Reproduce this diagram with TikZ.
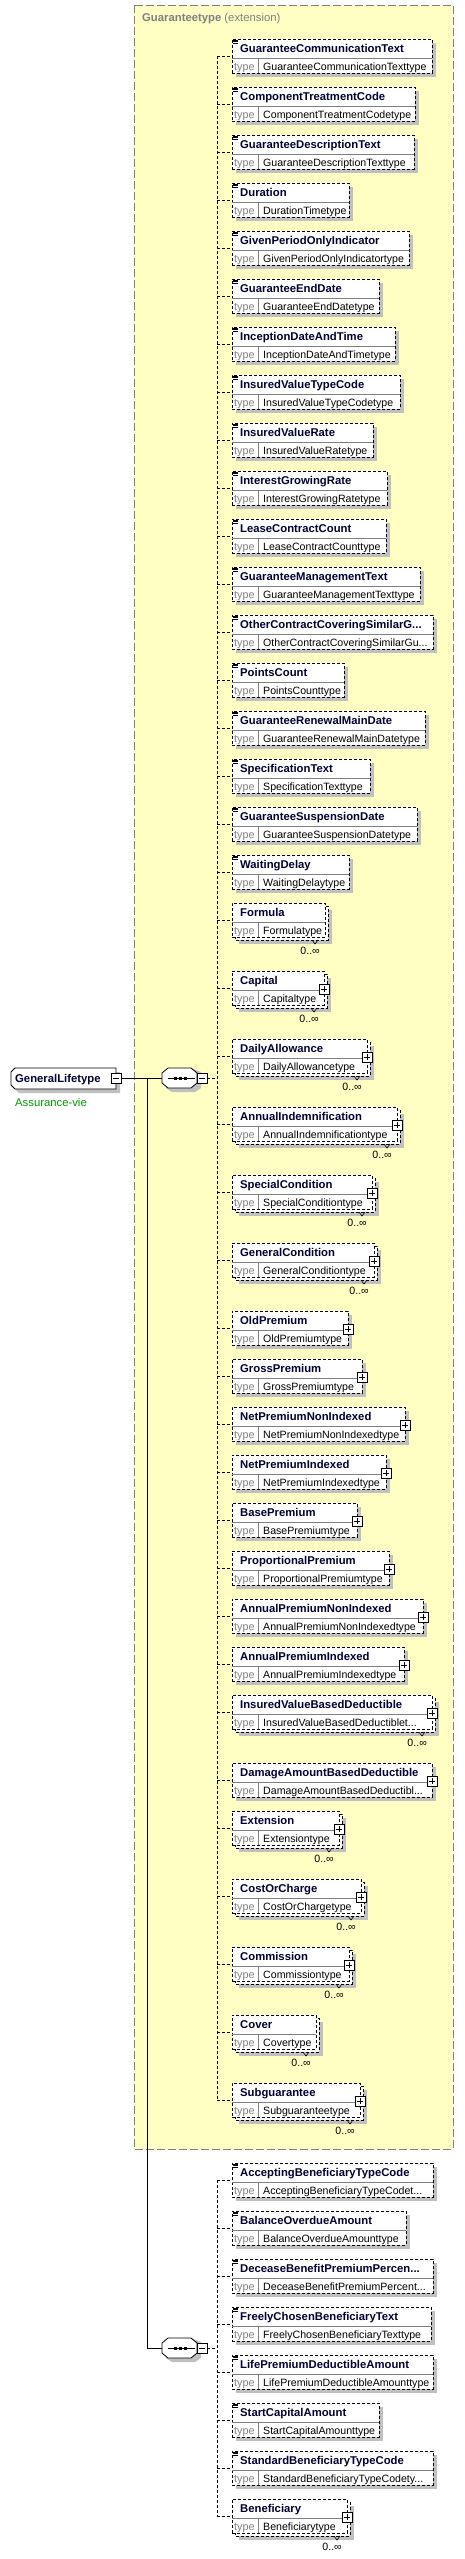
\documentclass[tikz,border=0pt]{standalone}
\usepackage{fontspec}
\setmainfont{Liberation Sans}
\definecolor{ybg}{HTML}{FFFFC4}
\definecolor{shd}{HTML}{C0C0C0}
\definecolor{gry}{HTML}{808080}
\definecolor{nmc}{HTML}{000033}
\definecolor{grn}{HTML}{009A00}
\tikzset{
 conn/.style={draw=black, line width=0.8pt, dash pattern=on 3pt off 2pt},
 solidconn/.style={draw=black, line width=0.8pt},
 elbox/.style={draw=black, fill=white, line width=0.8pt, dash pattern=on 3pt off 2pt, anchor=north west, inner sep=0pt, minimum height=34pt},
 backbox/.style={draw=black, fill=white, line width=0.8pt, dash pattern=on 3pt off 2pt},
 divline/.style={draw=gry, line width=0.8pt},
 nametxt/.style={font=\fontsize{11.3}{13}\selectfont\bfseries, text=nmc, inner sep=0pt, anchor=base west},
 typelbl/.style={font=\fontsize{10.8}{13}\selectfont, text=gry, inner sep=0pt, anchor=base west},
 typetxt/.style={font=\fontsize{10.6}{13}\selectfont, text=black, inner sep=0pt, anchor=base west},
 occtxt/.style={font=\fontsize{10.6}{13}\selectfont, text=black, inner sep=0pt, anchor=east},
 markline/.style={draw=black, line width=0.7pt},
 ghost/.style={inner sep=0pt, anchor=west},
}
\newcommand\ElBody[5]{%
 \node[elbox, minimum width={(#3-232)*1pt}] (#1) at (232,#2) {};
 \draw[divline] (232,#2+19) -- (#3,#2+19) (258,#2+19) -- (258,#2+34);
 \node[nametxt] (#1n) at (240,#2+13.5) {#4};
 \node[typelbl] (#1l) at (234,#2+31) {type};
 \node[typetxt] (#1t) at (263,#2+31) {#5};
}
\newcommand\PlusMark[2]{%
 \draw[markline, fill=white] (#1-5,#2+13) rectangle (#1+5,#2+23);
 \draw[markline] (#1-3,#2+18) -- (#1+3,#2+18) (#1,#2+15) -- (#1,#2+21);
}
\newcommand\ElSimple[5]{%
 \fill[shd] (236,#2+4) rectangle (#3+4,#2+38);
 \ElBody{#1}{#2}{#3}{#4}{#5}
 \draw[line width=0.6pt] (233,#2+1) -- (237.5,#2+1) (233,#2+2.5) -- (237.5,#2+2.5) (233,#2+4) -- (237.5,#2+4);
}
\newcommand\ElPlus[5]{%
 \fill[shd] (236,#2+4) rectangle (#3+4,#2+38);
 \ElBody{#1}{#2}{#3}{#4}{#5}
 \PlusMark{#3}{#2}
}
\newcommand\ElMulti[6]{%
 \fill[shd] (239,#2+7) rectangle (#3+7,#2+41);
 \draw[backbox] (235,#2+3) rectangle (#3+3,#2+37);
 \ElBody{#1}{#2}{#3}{#4}{#5}
 \draw[line width=0.6pt] (#3-13,#2+37) -- (#3-10,#2+41) -- (#3-7,#2+37);
 \node[occtxt] (#1o) at (#3-5,#2+48) {0..∞};
 \ifnum#6=1 \PlusMark{#3}{#2}\fi
}
\newcommand\MinusMark[2]{%
 \draw[markline, fill=white] (#1-5,#2-5) rectangle (#1+5,#2+5);
 \draw[markline] (#1-3,#2) -- (#1+3,#2);
}
\newcommand\SeqShape[2]{% left x, center y
 \fill[shd] (#1+4,#2-6) -- (#1+10,#2-10) -- (#1+29,#2-10) -- (#1+39,#2-6) -- (#1+39,#2+10) -- (#1+33,#2+14) -- (#1+10,#2+14) -- (#1+4,#2+10) -- cycle;
 \draw[solidconn, fill=white] (#1,#2-5) -- (#1+6,#2-10) -- (#1+29,#2-10) -- (#1+35,#2-5) -- (#1+35,#2+5) -- (#1+29,#2+10) -- (#1+6,#2+10) -- (#1,#2+5) -- cycle;
 \draw[markline] (#1+6,#2) -- (#1+33,#2);
 \fill (#1+11.5,#2-1.5) rectangle (#1+14.5,#2+1.5);
 \fill (#1+16.5,#2-1.5) rectangle (#1+19.5,#2+1.5);
 \fill (#1+21.5,#2-1.5) rectangle (#1+24.5,#2+1.5);
}
\begin{document}
\begin{tikzpicture}[x=1pt,y=-1pt]
\useasboundingbox (0,0) rectangle (464,2559);
\fill[white] (0,0) rectangle (464,2559);
% extension box
\draw[draw=gry, fill=ybg, line width=0.9pt, dash pattern=on 8pt off 3pt] (134,5) rectangle (453,2149);
\node[ghost, font=\fontsize{11.3}{13}\selectfont, text=gry] (ttl) at (142,19) {\textbf{Guaranteetype} (extension)};
% root element
\fill[shd] (19,1072) -- (120,1072) -- (120,1093) -- (19,1093) -- (15,1089) -- (15,1076) -- cycle;
\draw[solidconn, fill=white] (15,1068) -- (116,1068) -- (116,1089) -- (15,1089) -- (11,1085) -- (11,1072) -- cycle;
\node[ghost, minimum width=105pt, minimum height=21pt] (gl) at (11,1078.5) {};
\node[nametxt] (gln) at (15,1082.5) {GeneralLifetype};
\node[ghost, font=\fontsize{11.3}{13}\selectfont, text=grn] (doc) at (15,1102) {Assurance-vie};
\node[inner sep=0pt, minimum size=10pt] (glm) at (116,1078) {};
% sequences
\node[ghost, minimum width=35pt, minimum height=20pt] (seq1) at (162,1078) {};
\node[ghost, minimum width=35pt, minimum height=20pt] (seq2) at (162,2348) {};
\node[inner sep=0pt, minimum size=10pt] (s1m) at (202,1078) {};
\node[inner sep=0pt, minimum size=10pt] (s2m) at (202,2348) {};
\coordinate (br1) at (147,1078);
\coordinate (br2) at (147,2348);
\coordinate (s1j) at (217,1078);
\coordinate (s2j) at (217,2348);
\draw[solidconn] (glm.east) -- (seq1.west);
\draw[solidconn] (br1) -- (br2) -- (seq2.west);
\SeqShape{162}{1078}
\SeqShape{162}{2348}
\MinusMark{116}{1078}
\MinusMark{202}{1078}
\MinusMark{202}{2348}
\draw[conn] (s1m.east) -- (s1j);
\draw[conn] (s2m.east) -- (s2j);
% group 1
\ElSimple{e1}{39}{432}{GuaranteeCommunicationText}{GuaranteeCommunicationTexttype}
\ElSimple{e2}{87}{415}{ComponentTreatmentCode}{ComponentTreatmentCodetype}
\ElSimple{e3}{135}{414}{GuaranteeDescriptionText}{GuaranteeDescriptionTexttype}
\ElSimple{e4}{183}{349}{Duration}{DurationTimetype}
\ElSimple{e5}{231}{409}{GivenPeriodOnlyIndicator}{GivenPeriodOnlyIndicatortype}
\ElSimple{e6}{279}{379}{GuaranteeEndDate}{GuaranteeEndDatetype}
\ElSimple{e7}{327}{395}{InceptionDateAndTime}{InceptionDateAndTimetype}
\ElSimple{e8}{375}{400}{InsuredValueTypeCode}{InsuredValueTypeCodetype}
\ElSimple{e9}{423}{373}{InsuredValueRate}{InsuredValueRatetype}
\ElSimple{e10}{471}{387}{InterestGrowingRate}{InterestGrowingRatetype}
\ElSimple{e11}{519}{386}{LeaseContractCount}{LeaseContractCounttype}
\ElSimple{e12}{567}{420}{GuaranteeManagementText}{GuaranteeManagementTexttype}
\ElSimple{e13}{615}{433}{OtherContractCoveringSimilarG...}{OtherContractCoveringSimilarGu...}
\ElSimple{e14}{663}{344}{PointsCount}{PointsCounttype}
\ElSimple{e15}{711}{425}{GuaranteeRenewalMainDate}{GuaranteeRenewalMainDatetype}
\ElSimple{e16}{759}{370}{SpecificationText}{SpecificationTexttype}
\ElSimple{e17}{807}{417}{GuaranteeSuspensionDate}{GuaranteeSuspensionDatetype}
\ElSimple{e18}{855}{349}{WaitingDelay}{WaitingDelaytype}
\ElMulti{e19}{903}{325}{Formula}{Formulatype}{0}
\ElMulti{e20}{971}{324}{Capital}{Capitaltype}{1}
\ElMulti{e21}{1039}{367}{DailyAllowance}{DailyAllowancetype}{1}
\ElMulti{e22}{1107}{397}{AnnualIndemnification}{AnnualIndemnificationtype}{1}
\ElMulti{e23}{1175}{372}{SpecialCondition}{SpecialConditiontype}{1}
\ElMulti{e24}{1243}{374}{GeneralCondition}{GeneralConditiontype}{1}
\ElPlus{e25}{1311}{348}{OldPremium}{OldPremiumtype}
\ElPlus{e26}{1359}{362}{GrossPremium}{GrossPremiumtype}
\ElPlus{e27}{1407}{405}{NetPremiumNonIndexed}{NetPremiumNonIndexedtype}
\ElPlus{e28}{1455}{386}{NetPremiumIndexed}{NetPremiumIndexedtype}
\ElPlus{e29}{1503}{357}{BasePremium}{BasePremiumtype}
\ElPlus{e30}{1551}{389}{ProportionalPremium}{ProportionalPremiumtype}
\ElPlus{e31}{1599}{423}{AnnualPremiumNonIndexed}{AnnualPremiumNonIndexedtype}
\ElPlus{e32}{1647}{404}{AnnualPremiumIndexed}{AnnualPremiumIndexedtype}
\ElMulti{e33}{1695}{432}{InsuredValueBasedDeductible}{InsuredValueBasedDeductiblet...}{1}
\ElPlus{e34}{1763}{432}{DamageAmountBasedDeductible}{DamageAmountBasedDeductibl...}
\ElMulti{e35}{1811}{339}{Extension}{Extensiontype}{1}
\ElMulti{e36}{1879}{361}{CostOrCharge}{CostOrChargetype}{1}
\ElMulti{e37}{1947}{349}{Commission}{Commissiontype}{1}
\ElMulti{e38}{2015}{316}{Cover}{Covertype}{0}
\ElMulti{e39}{2083}{360}{Subguarantee}{Subguaranteetype}{1}
% group 2
\ElSimple{e40}{2163}{433}{AcceptingBeneficiaryTypeCode}{AcceptingBeneficiaryTypeCodet...}
\ElSimple{e41}{2211}{406}{BalanceOverdueAmount}{BalanceOverdueAmounttype}
\ElSimple{e42}{2259}{433}{DeceaseBenefitPremiumPercen...}{DeceaseBenefitPremiumPercent...}
\ElSimple{e43}{2307}{431}{FreelyChosenBeneficiaryText}{FreelyChosenBeneficiaryTexttype}
\ElSimple{e44}{2355}{433}{LifePremiumDeductibleAmount}{LifePremiumDeductibleAmounttype}
\ElSimple{e45}{2403}{379}{StartCapitalAmount}{StartCapitalAmounttype}
\ElSimple{e46}{2451}{433}{StandardBeneficiaryTypeCode}{StandardBeneficiaryTypeCodety...}
\ElMulti{e47}{2499}{347}{Beneficiary}{Beneficiarytype}{1}
% connectors
\draw[conn] (e1.west -| s1j) -- (e39.west -| s1j);
\draw[conn] (e40.west -| s2j) -- (e47.west -| s2j);
\foreach \i in {1,...,39} {\draw[conn] (e\i.west -| s1j) -- (e\i.west);}
\foreach \i in {40,...,47} {\draw[conn] (e\i.west -| s2j) -- (e\i.west);}
\end{tikzpicture}
\end{document}
